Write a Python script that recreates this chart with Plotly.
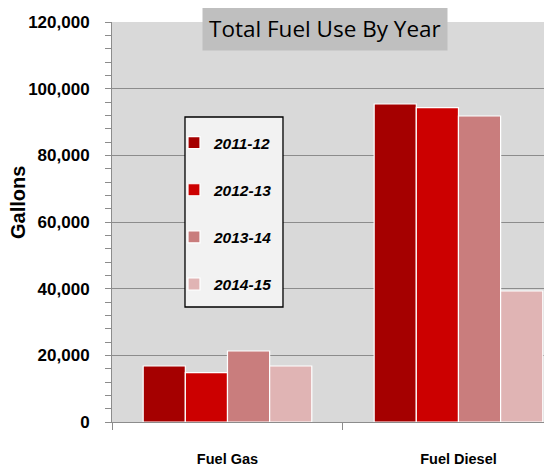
import plotly.graph_objects as go

categories = ["Fuel Gas", "Fuel Diesel"]
series_names = ["2011-12", "2012-13", "2013-14", "2014-15"]
values_2011_12 = [16800, 95400]
values_2012_13 = [14800, 94300]
values_2013_14 = [21300, 91800]
values_2014_15 = [16800, 39300]
series_values = [values_2011_12, values_2012_13, values_2013_14, values_2014_15]
colors = ["#A50000", "#CC0000", "#C97D7D", "#E0B4B4"]
y_tick_vals = [0, 20000, 40000, 60000, 80000, 100000, 120000]

fig = go.Figure()
for i, (name, vals) in enumerate(zip(series_names, series_values)):
    fig.add_trace(go.Bar(
        x=categories, y=vals, name=name,
        marker=dict(color=colors[i], line=dict(color="white", width=1.2)),
        legendgroup=name,
    ))

# page has an 8px body margin, so the figure is 8px smaller and offsets reduced
fig.update_layout(
    width=544, height=461,
    margin=dict(l=104, r=0, t=14, b=47),
    paper_bgcolor="white",
    plot_bgcolor="#D9D9D9",
    barmode="group",
    bargap=0.27,
    bargroupgap=0.0,
    font=dict(family="Liberation Sans", color="black"),
    showlegend=True,
    legend=dict(
        x=0.1409, y=0.74, xanchor="left", yanchor="top",
        bgcolor="rgba(0,0,0,0)", borderwidth=0,
        font=dict(size=15.5, family="Liberation Sans", color="black", weight="bold", style="italic"),
        tracegroupgap=24,
        itemwidth=30,
    ),
    xaxis=dict(
        range=[-0.5, 1.405],
        showgrid=False,
        showline=True, linecolor="#8C8C8C", linewidth=1,
        ticks="outside", tickson="boundaries", ticklen=7, tickcolor="#8C8C8C",
        tickfont=dict(size=14.5, family="Liberation Sans", weight="bold"),
        ticklabelstandoff=24,
        automargin=False,
        fixedrange=True,
    ),
    yaxis=dict(
        range=[0, 120000],
        tickvals=y_tick_vals,
        tickformat=",d",
        showgrid=True, gridcolor="#8C8C8C", gridwidth=1,
        showline=True, linecolor="#8C8C8C", linewidth=1,
        ticks="outside", ticklen=6, tickcolor="#8C8C8C",
        minor=dict(dtick=4000, ticks="outside", ticklen=6, tickcolor="#8C8C8C", showgrid=False),
        tickfont=dict(size=17, family="Liberation Sans", weight="bold"),
        ticklabelstandoff=12,
        zeroline=False,
        automargin=False,
    ),
    shapes=[dict(
        type="rect", xref="paper", yref="paper",
        x0=0.1659, x1=0.3886, y0=0.2875, y1=0.7625,
        fillcolor="#F2F2F2", line=dict(color="black", width=1.3), layer="above",
    )],
    annotations=[
        dict(
            text="Total Fuel Use By Year",
            xref="paper", yref="paper", x=0.485, y=1.04, xanchor="center", yanchor="top",
            showarrow=False,
            font=dict(size=22.5, family="Open Sans", color="black"),
            bgcolor="#BFBFBF", borderpad=6,
        ),
        dict(
            text="Gallons", textangle=-90,
            xref="paper", yref="paper", x=-0.2136, y=0.5475, xanchor="center", yanchor="middle",
            showarrow=False,
            font=dict(size=20, family="Liberation Sans", color="black", weight="bold"),
        ),
    ],
)

fig.write_html("out.html")
